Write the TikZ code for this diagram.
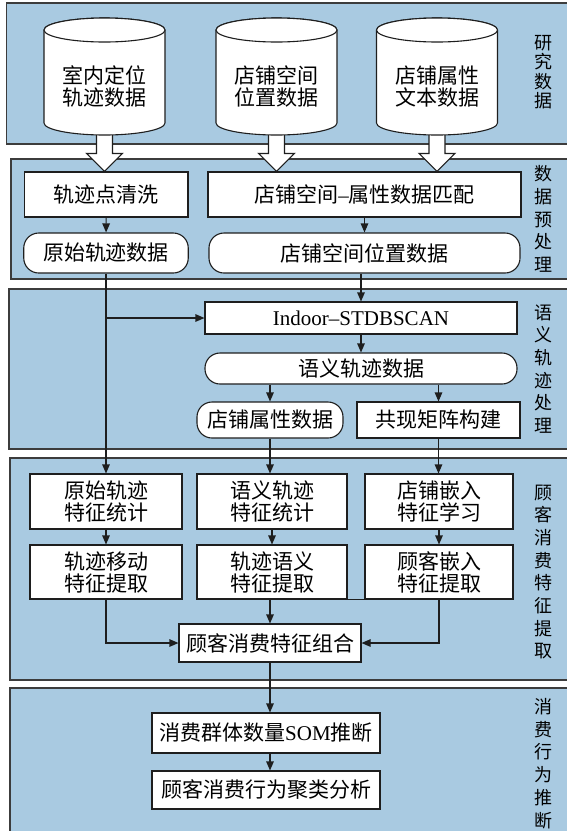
\documentclass[tikz,border=0pt]{standalone}
\usepackage{fontspec}
\setmainfont{Liberation Serif}
\newfontfamily\cjk{Noto Sans CJK SC}
\usetikzlibrary{arrows.meta,calc}
\definecolor{panelblue}{HTML}{A9CAE1}
\definecolor{edgegray}{HTML}{3C3C3C}
\definecolor{ink}{HTML}{1E1E1E}
\newcommand\drawcyl[1]{%
  \filldraw[cyl] (#1-60.5,30) -- (#1-60.5,123)
    arc[start angle=180,end angle=360,x radius=60.5pt,y radius=12pt]
    -- (#1+60.5,30)
    arc[start angle=0,end angle=180,x radius=60.5pt,y radius=12pt] -- cycle;
  \draw[cyl] (#1,30) ellipse[x radius=60.5pt,y radius=12pt];}
\newcommand\hollowarrow[2]{%
  \filldraw[hollow] ([xshift=-8pt]#1) -- ([xshift=-8pt,yshift=18pt]#2)
    -- ([xshift=-18pt,yshift=18pt]#2) -- (#2) -- ([xshift=18pt,yshift=18pt]#2)
    -- ([xshift=8pt,yshift=18pt]#2) -- ([xshift=8pt]#1);}
\begin{document}
\begin{tikzpicture}[x=1pt,y=-1pt,
  panel/.style={fill=panelblue,draw=edgegray,line width=1.4pt},
  box/.style={draw=ink,fill=white,line width=1.1pt,inner sep=0pt,align=center,
    font=\cjk\fontsize{21}{22}\selectfont},
  stad/.style={box,rounded corners=15pt},
  lbl/.style={font=\cjk\fontsize{18}{22.7}\selectfont,align=center,inner sep=0pt},
  cyltext/.style={font=\cjk\fontsize{21}{21.5}\selectfont,align=center,inner sep=0pt},
  conn/.style={draw=ink,line width=1.1pt},
  arr/.style={conn,-{Triangle[length=9pt,width=7.5pt]}},
  hollow/.style={fill=white,draw=ink,line width=1.1pt,line join=miter},
  cyl/.style={fill=white,draw=ink,line width=1.1pt}]
\useasboundingbox (0,0) rectangle (566,831);
\fill[white] (0,0) rectangle (566,831);

% panels
\draw[panel] (6.5,3) rectangle (575,144);
\draw[panel] (11,159) rectangle (575,279);
\draw[panel] (9,289) rectangle (575,449);
\draw[panel] (10,458) rectangle (575,680);
\draw[panel] (10,688) rectangle (575,845);

\node[lbl,font=\cjk\fontsize{18}{19.5}\selectfont] (l1) at (543,72) {研\\究\\数\\据};
\node[lbl] (l2) at (543,219) {数\\据\\预\\处\\理};
\node[lbl] (l3) at (543,369) {语\\义\\轨\\迹\\处\\理};
\node[lbl] (l4) at (543,572) {顾\\客\\消\\费\\特\\征\\提\\取};
\node[lbl] (l5) at (543,763.5) {消\\费\\行\\为\\推\\断};

% panel 2 boxes
\node[box,minimum width=163.5pt,minimum height=45pt] (clean) at (106.25,194.5) {轨迹点清洗};
\node[box,minimum width=313pt,minimum height=45pt] (match) at (364.5,194.5) {店铺空间{\rmfamily –}属性数据匹配};
\node[stad,minimum width=164.5pt,minimum height=40pt] (raw) at (106,253) {原始轨迹数据};
\node[stad,minimum width=311pt,minimum height=40pt] (shoppos) at (364.5,253) {店铺空间位置数据};

% cylinders and hollow arrows
\coordinate (cb1) at (104.5,126);
\coordinate (cb2) at (276.5,126);
\coordinate (cb3) at (437,126);
\coordinate (tip1) at (cb1 |- clean.north);
\coordinate (tip2) at (cb2 |- match.north);
\coordinate (tip3) at (cb3 |- match.north);
\hollowarrow{cb1}{tip1}
\hollowarrow{cb2}{tip2}
\hollowarrow{cb3}{tip3}
\drawcyl{104.5}
\drawcyl{276.5}
\drawcyl{437}
\node[cyltext] (d1) at (104.5,86.5) {室内定位\\轨迹数据};
\node[cyltext] (d2) at (276.5,86.5) {店铺空间\\位置数据};
\node[cyltext] (d3) at (437,86.5) {店铺属性\\文本数据};

% panel 3
\node[box,minimum width=312pt,minimum height=32pt,font=\fontsize{21}{22}\selectfont] (indoor) at (361,318) {Indoor–STDBSCAN};
\node[stad,minimum width=312pt,minimum height=31pt] (semtraj) at (361,368.5) {语义轨迹数据};
\node[stad,minimum width=146pt,minimum height=36pt] (shopattr) at (270,420) {店铺属性数据};
\node[box,minimum width=163pt,minimum height=36pt] (cooc) at (438.5,420) {共现矩阵构建};

% panel 4
\node[box,minimum width=152pt,minimum height=55pt] (f11) at (106,501.5) {原始轨迹\\特征统计};
\node[box,minimum width=150pt,minimum height=55pt] (f12) at (272,501.5) {语义轨迹\\特征统计};
\node[box,minimum width=148pt,minimum height=55pt] (f13) at (439,501.5) {店铺嵌入\\特征学习};
\node[box,minimum width=152pt,minimum height=54pt] (f21) at (106,572) {轨迹移动\\特征提取};
\node[box,minimum width=150pt,minimum height=54pt] (f22) at (272,572) {轨迹语义\\特征提取};
\node[box,minimum width=148pt,minimum height=54pt] (f23) at (439,572) {顾客嵌入\\特征提取};
\node[box,minimum width=182pt,minimum height=38pt] (comb) at (270,643) {顾客消费特征组合};

% panel 5
\node[box,minimum width=228pt,minimum height=40pt] (som) at (266,733) {消费群体数量{\rmfamily SOM}推断};
\node[box,minimum width=228pt,minimum height=38pt] (clus) at (266,790) {顾客消费行为聚类分析};

% connectors
\draw[arr] (clean) -- (raw);
\draw[arr] (match) -- (shoppos);
\draw[arr] (raw.south) -- (raw.south |- f11.north);
\draw[arr] (raw.south |- indoor.west) -- (indoor.west);
\draw[arr] (indoor.north |- shoppos.south) -- (indoor.north);
\draw[arr] (indoor) -- (semtraj);
\draw[arr] (shopattr.north |- semtraj.south) -- (shopattr.north);
\draw[arr] (cooc.north |- semtraj.south) -- (cooc.north);
\draw[arr] (shopattr.south) -- (shopattr.south |- f12.north);
\draw[arr] (cooc.south) -- (cooc.south |- f13.north);
\draw[arr] (f11) -- (f21);
\draw[arr] (f12) -- (f22);
\draw[arr] (f13) -- (f23);
\draw[arr] (f21.south) |- (comb.west);
\draw[arr] (f23.south) |- (comb.east);
\draw[arr] (comb.north |- f22.south) -- (comb.north);
\draw[conn] (f22.south east) -- (f23.south west);
\draw[arr] (comb.south) -- (comb.south |- som.north);
\draw[arr] (comb.south |- som.south) -- (comb.south |- clus.north);
\end{tikzpicture}
\end{document}
